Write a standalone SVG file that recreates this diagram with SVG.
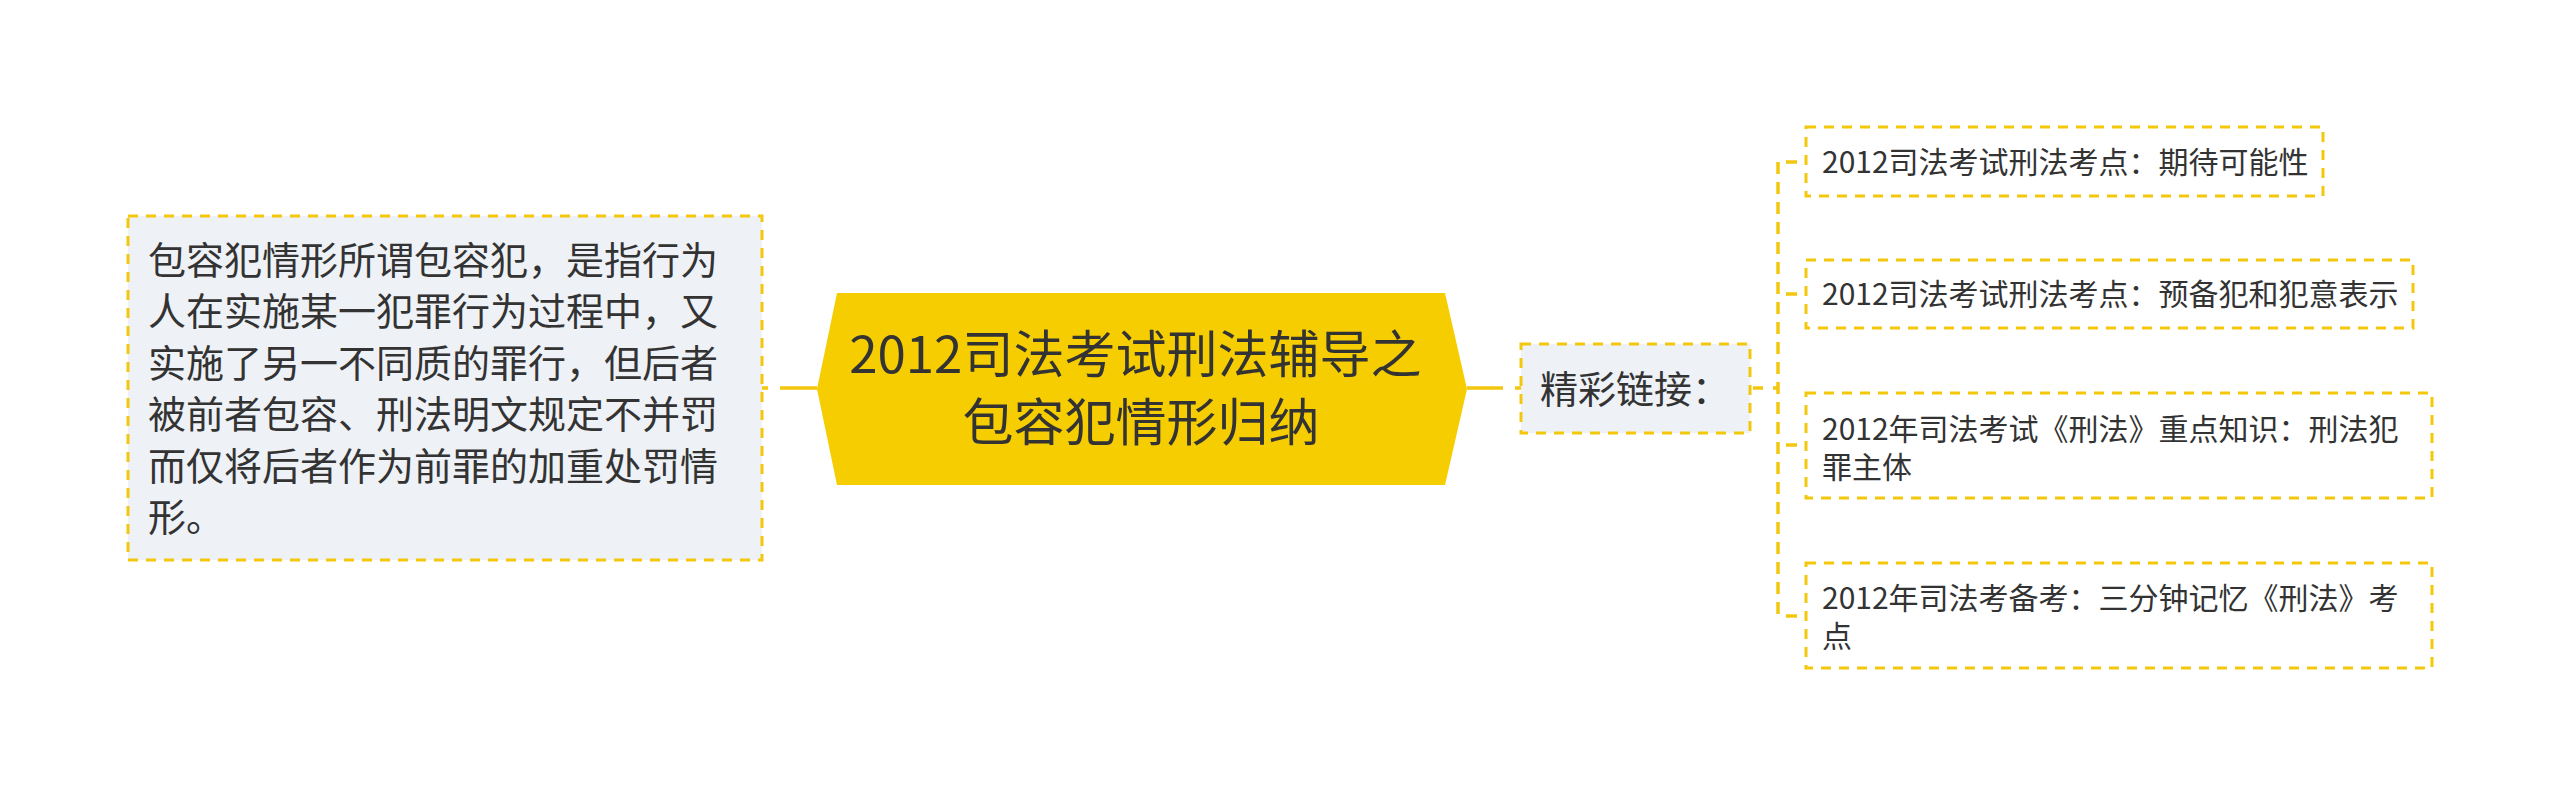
<svg xmlns="http://www.w3.org/2000/svg" width="2560" height="797" viewBox="0 0 2560 797">
<style>
.box{fill:#eef1f6;stroke:#f3c80c;stroke-width:3;stroke-dasharray:10 8}
.obox{fill:#ffffff;stroke:#f3c80c;stroke-width:3;stroke-dasharray:10 8}
.t{font-family:"Noto Sans CJK SC","Noto Sans",sans-serif;fill:#333333}
.conn{fill:none;stroke:#f3c80c;stroke-width:3.5}
</style>
<rect width="2560" height="797" fill="#ffffff"/>
<g id="connectors">
<path class="conn" d="M817 388 H762" stroke-dasharray="37 12 6 100"/>
<path class="conn" d="M1467 388 H1521" stroke-dasharray="36 12 6 100"/>
<path class="conn" d="M1751 388 H1778" stroke-dasharray="0 2 10 10 6 100" stroke-width="3"/>
<path class="conn" d="M1778 162 V616" stroke-dasharray="12 8" stroke-width="3"/>
<path class="conn" d="M1778 162 H1806" stroke-dasharray="0 8 11 100" stroke-width="3"/>
<path class="conn" d="M1778 294 H1806" stroke-dasharray="0 8 11 100" stroke-width="3"/>
<path class="conn" d="M1778 445 H1806" stroke-dasharray="0 8 11 100" stroke-width="3"/>
<path class="conn" d="M1778 616 H1806" stroke-dasharray="0 8 11 100" stroke-width="3"/>
</g>
<g id="node-left">
<rect class="box" x="128" y="216" width="634" height="344"/>
<text class="t" font-size="38" x="148">
<tspan x="148" y="273.5">包容犯情形所谓包容犯，是指行为</tspan>
<tspan x="148" y="325">人在实施某一犯罪行为过程中，又</tspan>
<tspan x="148" y="376.5">实施了另一不同质的罪行，但后者</tspan>
<tspan x="148" y="428">被前者包容、刑法明文规定不并罚</tspan>
<tspan x="148" y="479.5">而仅将后者作为前罪的加重处罚情</tspan>
<tspan x="148" y="531">形。</tspan>
</text>
</g>
<g id="node-center">
<polygon points="817,389 837,293 1445,293 1467,389 1445,485 837,485" fill="#f6cd00"/>
<text class="t" font-size="51" text-anchor="middle">
<tspan x="1141" y="373">2012司法考试刑法辅导之</tspan>
<tspan x="1141" y="441">包容犯情形归纳</tspan>
</text>
</g>
<g id="node-links">
<rect class="box" x="1521" y="344" width="229" height="89"/>
<text class="t" font-size="38" x="1540" y="403">精彩链接：</text>
</g>
<g id="node-r1">
<rect class="obox" x="1806" y="127" width="517" height="69"/>
<text class="t" font-size="30" x="1822" y="173">2012司法考试刑法考点：期待可能性</text>
</g>
<g id="node-r2">
<rect class="obox" x="1806" y="260" width="607" height="68"/>
<text class="t" font-size="30" x="1822" y="305">2012司法考试刑法考点：预备犯和犯意表示</text>
</g>
<g id="node-r3">
<rect class="obox" x="1806" y="393" width="626" height="105"/>
<text class="t" font-size="30">
<tspan x="1822" y="439.5">2012年司法考试《刑法》重点知识：刑法犯</tspan>
<tspan x="1822" y="477.5">罪主体</tspan>
</text>
</g>
<g id="node-r4">
<rect class="obox" x="1806" y="563" width="626" height="105"/>
<text class="t" font-size="30">
<tspan x="1822" y="608.5">2012年司法考备考：三分钟记忆《刑法》考</tspan>
<tspan x="1822" y="646.5">点</tspan>
</text>
</g>
</svg>
